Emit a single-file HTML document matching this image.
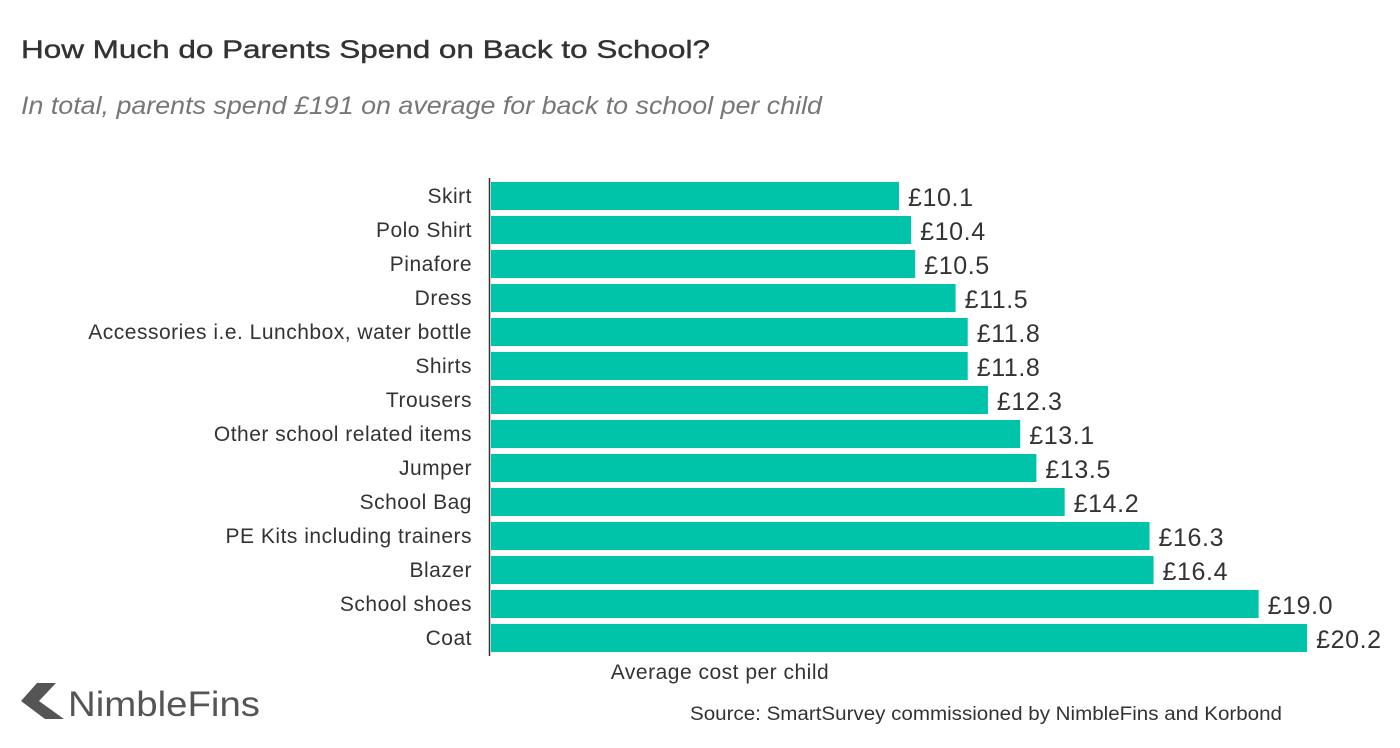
<!DOCTYPE html>
<html><head><meta charset="utf-8"><style>
body{margin:0;background:#fff;width:1400px;height:748px;overflow:hidden;font-family:"Liberation Sans",sans-serif;}
svg{display:block}
</style></head><body>
<svg id="c" width="1400" height="748">
<text x="21" y="58" font-size="25" fill="#333" stroke="#333" stroke-width="0.4" textLength="689" lengthAdjust="spacingAndGlyphs">How Much do Parents Spend on Back to School?</text>
<text x="21" y="114" font-size="25" font-style="italic" fill="#777" textLength="801" lengthAdjust="spacingAndGlyphs">In total, parents spend £191 on average for back to school per child</text>
<line x1="489.5" y1="178" x2="489.5" y2="656" stroke="#333" stroke-width="1.5"/>
<g id="bars"></g>
<text x="720" y="679" font-size="21" letter-spacing="0.5" fill="#333" text-anchor="middle">Average cost per child</text>
<g>
<polygon points="37,683 56,683 39,701 21,701" fill="#555"/>
<polygon points="21,701 39,701 64,719 45,719" fill="#555"/>
<text x="68" y="716" font-size="35" fill="#555" textLength="192" lengthAdjust="spacingAndGlyphs">NimbleFins</text>
</g>
<text x="1282" y="720" font-size="19" fill="#333" text-anchor="end" textLength="592" lengthAdjust="spacingAndGlyphs">Source: SmartSurvey commissioned by NimbleFins and Korbond</text>
</svg>
<script>
const categories=["Skirt","Polo Shirt","Pinafore","Dress","Accessories i.e. Lunchbox, water bottle","Shirts","Trousers","Other school related items","Jumper","School Bag","PE Kits including trainers","Blazer","School shoes","Coat"];
const values=[10.1,10.4,10.5,11.5,11.8,11.8,12.3,13.1,13.5,14.2,16.3,16.4,19.0,20.2];
const x=v=>491+v*40.4;
const y=i=>182+i*34;
const g=document.getElementById('bars');
const NS='http://www.w3.org/2000/svg';
categories.forEach((c,i)=>{
 const r=document.createElementNS(NS,'rect');
 r.setAttribute('x',x(0));r.setAttribute('y',y(i));r.setAttribute('width',x(values[i])-x(0));r.setAttribute('height',28);r.setAttribute('fill','#00c4aa');
 
 
 g.appendChild(r);
 const l=document.createElementNS(NS,'text');
 l.setAttribute('x',472);l.setAttribute('y',y(i)+21);l.setAttribute('text-anchor','end');l.setAttribute('font-size','21');l.setAttribute('letter-spacing','0.5');l.setAttribute('fill','#333');l.textContent=c;
 
 
 g.appendChild(l);
 const v=document.createElementNS(NS,'text');
 v.setAttribute('x',x(values[i])+9);v.setAttribute('y',y(i)+24);v.setAttribute('font-size','25');v.setAttribute('letter-spacing','0.6');v.setAttribute('fill','#333');v.textContent='£'+values[i].toFixed(1);
 
 
 g.appendChild(v);
});
</script>
</body></html>
